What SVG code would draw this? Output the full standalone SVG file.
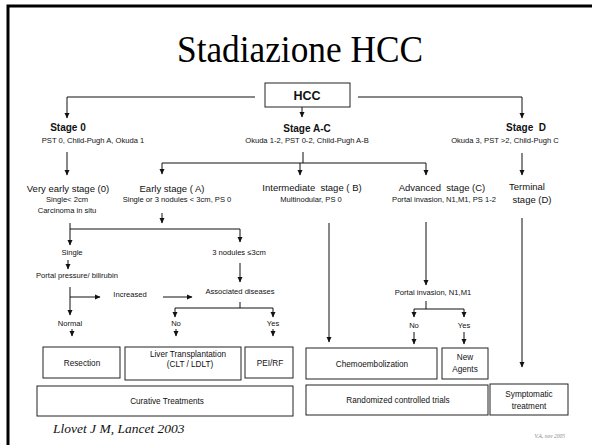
<svg xmlns="http://www.w3.org/2000/svg" width="592" height="445" viewBox="0 0 592 445">
<defs>
<marker id="ah" markerWidth="6" markerHeight="6" refX="5" refY="3" orient="auto" markerUnits="userSpaceOnUse">
<path d="M0,0.5 L5.5,3 L0,5.5 Z" fill="#111"/>
</marker>
<style>
.t{font-family:"Liberation Sans",Arial,sans-serif;fill:#111;text-anchor:middle}
.b{font-weight:bold}
.s{font-size:7.6px}
.m{font-size:9.5px}
.n{font-size:8.2px}
.box{fill:#fff;stroke:#222;stroke-width:1}
.c path{fill:none;stroke:#111;stroke-width:1}
.c .a{marker-end:url(#ah)}
</style>
</defs>
<rect x="0" y="0" width="592" height="445" fill="#fff"/>
<rect x="8" y="6" width="620" height="460" fill="none" stroke="#000" stroke-width="3"/>
<text x="300" y="62" font-family="'Liberation Serif','Times New Roman',serif" font-size="38" text-anchor="middle" fill="#000" textLength="246" lengthAdjust="spacingAndGlyphs">Stadiazione HCC</text>

<g class="c">
<path class="a" d="M255,97 H67 V118"/>
<path class="a" d="M358,97 H522 V118"/>
<path class="a" d="M302,107 V117"/>
<path class="a" d="M67,152 V175"/>
<path d="M303,152 V163 M162,163 H426"/>
<path class="a" d="M162,163 V174"/>
<path class="a" d="M300,163 V175"/>
<path class="a" d="M426,163 V175"/>
<path class="a" d="M522,153 V175"/>
<path class="a" d="M162,213 V223"/>
<path d="M70,229 H240"/>
<path class="a" d="M70,223 V245"/>
<path class="a" d="M240,229 V242"/>
<path class="a" d="M68,260 V269"/>
<path class="a" d="M240,263 V282"/>
<path class="a" d="M70,287 V315"/>
<path class="a" d="M70,297 H100"/>
<path class="a" d="M163,297 H192"/>
<path d="M240,302 V308 M175,308 H273"/>
<path class="a" d="M175,308 V317"/>
<path class="a" d="M273,308 V317"/>
<path class="a" d="M72,329 V336"/>
<path class="a" d="M176,329 V336"/>
<path class="a" d="M273,329 V336"/>
<path class="a" d="M329,223 V342"/>
<path class="a" d="M426,222 V285"/>
<path d="M426,301 V309 M414,309 H464"/>
<path class="a" d="M414,309 V317"/>
<path class="a" d="M464,309 V317"/>
<path class="a" d="M414,332 V344"/>
<path class="a" d="M464,332 V344"/>
<path class="a" d="M522,218 V367"/>
</g>

<g id="hcc"><rect class="box" x="265" y="83" width="85" height="24"/><text class="t b" x="307" y="100" font-size="12.5">HCC</text></g>

<g id="stage0"><text class="t b" x="68" y="131" font-size="10">Stage 0</text><text class="t s" x="93" y="143">PST 0, Child-Pugh A, Okuda 1</text></g>
<g id="stageAC"><text class="t b" x="307" y="132" font-size="10">Stage A-C</text><text class="t s" x="307" y="143">Okuda 1-2, PST 0-2, Child-Pugh A-B</text></g>
<g id="stageD"><text class="t b" x="526" y="131" font-size="10" xml:space="preserve">Stage  D</text><text class="t s" x="505" y="143">Okuda 3, PST &gt;2, Child-Pugh C</text></g>

<g id="veryearly"><text class="t m" x="68" y="192">Very early stage (0)</text><text class="t s" x="67" y="202">Single&lt; 2cm</text><text class="t s" x="67" y="213">Carcinoma in situ</text></g>
<g id="early"><text class="t m" x="172" y="192">Early stage ( A)</text><text class="t s" x="177" y="202">Single or 3 nodules &lt; 3cm, PS 0</text></g>
<g id="intermediate"><text class="t m" x="312" y="191" xml:space="preserve">Intermediate  stage ( B)</text><text class="t s" x="311" y="202">Multinodular, PS 0</text></g>
<g id="advanced"><text class="t m" x="442" y="191" xml:space="preserve">Advanced  stage (C)</text><text class="t s" x="444" y="202">Portal invasion, N1,M1, PS 1-2</text></g>
<g id="terminal"><text class="t m" x="527" y="190">Terminal</text><text class="t m" x="532" y="203">stage (D)</text></g>

<g id="single"><text class="t s" x="72" y="255">Single</text></g>
<g id="nodules3"><text class="t s" x="239" y="255">3 nodules ≤3cm</text></g>
<g id="portalpressure"><text class="t s" x="77" y="278">Portal pressure/ bilirubin</text></g>
<g id="increased"><text class="t s" x="130" y="297">Increased</text></g>
<g id="associated"><text class="t s" x="240" y="294">Associated diseases</text></g>
<g id="normal"><text class="t s" x="70" y="326">Normal</text></g>
<g id="no1"><text class="t s" x="176" y="326">No</text></g>
<g id="yes1"><text class="t s" x="273" y="326">Yes</text></g>
<g id="portalinv"><text class="t s" x="433" y="295">Portal invasion, N1,M1</text></g>
<g id="no2"><text class="t s" x="414" y="328">No</text></g>
<g id="yes2"><text class="t s" x="464" y="328">Yes</text></g>

<g id="resection"><rect class="box" x="43" y="347" width="77" height="31"/><text class="t n" x="82" y="366">Resection</text></g>
<g id="liver"><rect class="box" x="125" y="347" width="116" height="33"/><text class="t n" x="188" y="357">Liver Transplantation</text><text class="t n" x="190" y="367">(CLT / LDLT)</text></g>
<g id="pei"><rect class="box" x="245" y="347" width="48" height="31"/><text class="t n" x="270" y="366">PEI/RF</text></g>
<g id="chemo"><rect class="box" x="306" y="348" width="131" height="31"/><text class="t n" x="372" y="367">Chemoembolization</text></g>
<g id="newagents"><rect class="box" x="442" y="348" width="46" height="31"/><text class="t n" x="465" y="360">New</text><text class="t n" x="465" y="372">Agents</text></g>

<g id="curative"><rect class="box" x="37" y="386" width="256" height="30"/><text class="t n" x="167" y="404">Curative Treatments</text></g>
<g id="rct"><rect class="box" x="306" y="385" width="182" height="30"/><text class="t n" x="398" y="403">Randomized controlled trials</text></g>
<g id="symptomatic"><rect class="box" x="490" y="384" width="78" height="31"/><text class="t n" x="529" y="397">Symptomatic</text><text class="t n" x="529" y="409">treatment</text></g>

<text x="53" y="433" font-family="'Liberation Serif','Times New Roman',serif" font-style="italic" font-size="13.5" fill="#111">Llovet J M, Lancet 2003</text>
<text x="565" y="438" font-family="'Liberation Serif','Times New Roman',serif" font-style="italic" font-size="5.5" fill="#888" text-anchor="end">V.A, nov 2005</text>
</svg>
